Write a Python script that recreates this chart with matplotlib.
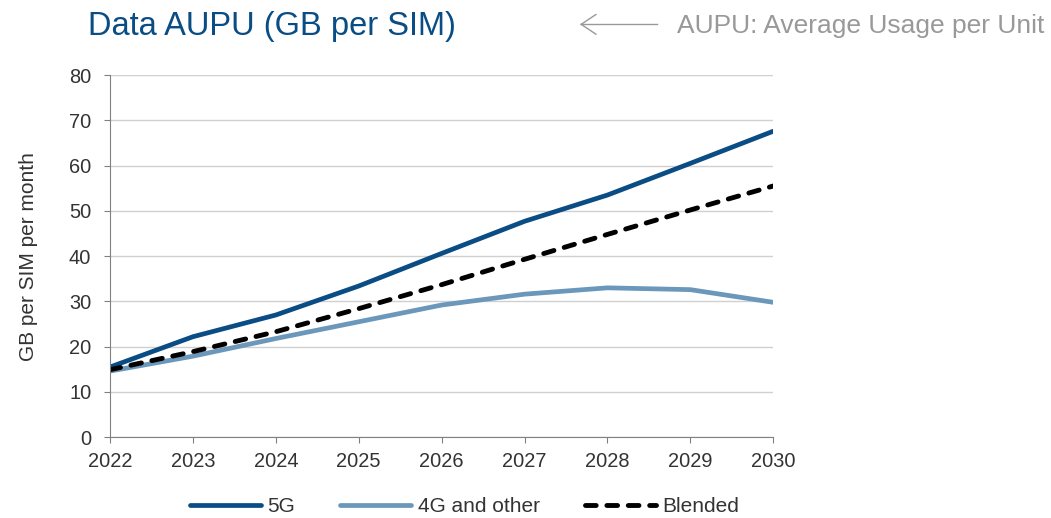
import matplotlib.pyplot as plt

plt.rcParams['font.family'] = ['Liberation Sans', 'DejaVu Sans']

years = [2022, 2023, 2024, 2025, 2026, 2027, 2028, 2029, 2030]
aupu_5g = [15.5, 22.2, 27.0, 33.4, 40.6, 47.7, 53.5, 60.5, 67.6]
aupu_4g = [14.6, 17.9, 21.8, 25.5, 29.2, 31.6, 33.0, 32.6, 29.8]
aupu_blended = [14.9, 18.9, 23.3, 28.4, 33.7, 39.3, 44.8, 50.2, 55.5]

c5g = '#0A4C84'
c4g = '#6A97BA'
grey = '#808080'
txt = '#333333'

fig = plt.figure(figsize=(10.51, 5.18), dpi=100)
ax = fig.add_axes([0.1047, 0.156, 0.631, 0.699])

ax.plot(years, aupu_5g, color=c5g, lw=3.4, label='5G', solid_capstyle='round')
ax.plot(years, aupu_4g, color=c4g, lw=3.4, label='4G and other', solid_capstyle='round')
ax.plot(years, aupu_blended, color='black', lw=3.5, ls=(0, (2.2, 2.2)),
        label='Blended', dash_capstyle='round')

ax.set_xlim(2022, 2030)
ax.set_ylim(0, 80)
ax.set_xticks(years)
ax.set_yticks(range(0, 81, 10))
ax.grid(axis='y', color='#D0D0D0', lw=1)
ax.set_axisbelow(True)
for s in ['top', 'right']:
    ax.spines[s].set_visible(False)
for s in ['left', 'bottom']:
    ax.spines[s].set_color(grey)
ax.tick_params(direction='out', length=4.5, color=grey, labelsize=14.4, labelcolor=txt)
ax.tick_params(axis='y', pad=9)
ax.tick_params(axis='x', pad=6)
ax.set_ylabel('GB per SIM per month', fontsize=15, color=txt, labelpad=22)

fig.text(0.0837, 0.948, 'Data AUPU (GB per SIM)', fontsize=23.5, color=c5g, va='center')
fig.text(0.644, 0.950, 'AUPU: Average Usage per Unit', fontsize=19, color='#999999', va='center')
ay = 0.953
fig.add_artist(plt.Line2D([0.553, 0.625], [ay, ay], color='#999999', lw=1))
fig.add_artist(plt.Line2D([0.553, 0.567], [ay, ay + 0.019], color='#999999', lw=1))
fig.add_artist(plt.Line2D([0.553, 0.567], [ay, ay - 0.019], color='#999999', lw=1))

fig.legend(loc='center', bbox_to_anchor=(0.442, 0.022), ncol=3, frameon=False,
           fontsize=15, handlelength=3.4, handletextpad=0.3, columnspacing=2.2,
           labelcolor=txt)

fig.savefig('out.png', dpi=100)
